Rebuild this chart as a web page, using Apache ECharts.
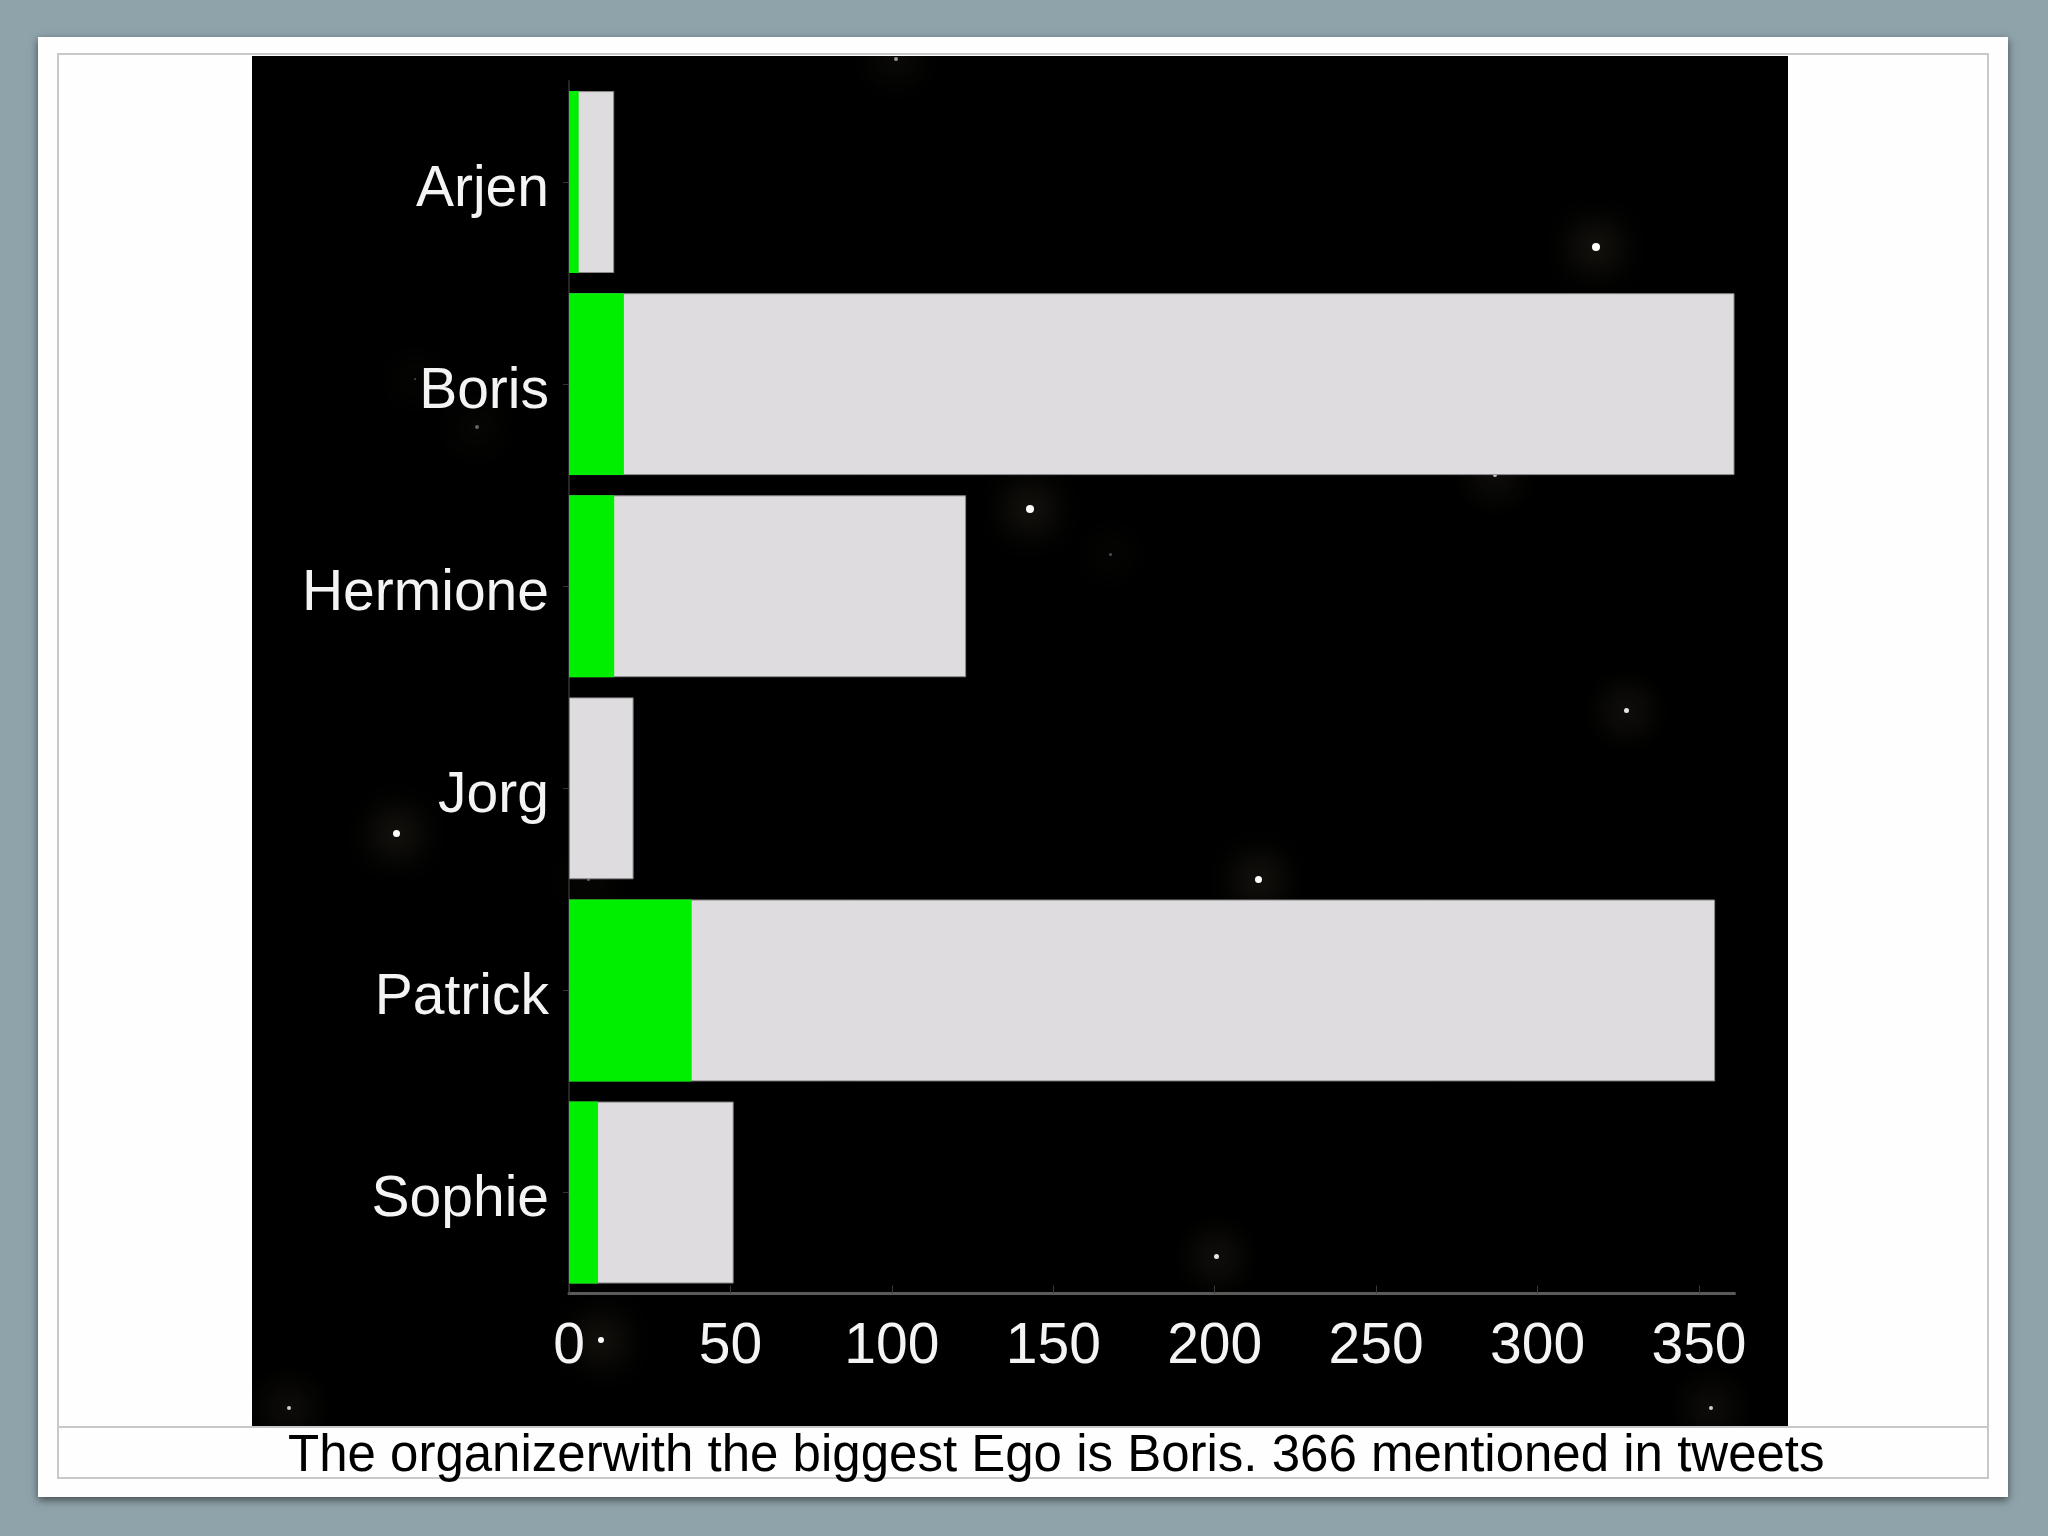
<!DOCTYPE html>
<html>
<head>
<meta charset="utf-8">
<script src="https://cdn.jsdelivr.net/npm/echarts@6/dist/echarts.min.js"></script>
<style>
html, body { margin:0; padding:0; width:2048px; height:1536px; overflow:hidden; background:#8fa3ab; }
#card { position:absolute; left:38px; top:37px; width:1970px; height:1460px; background:#fefefe; box-shadow:0 3px 8px rgba(0,0,0,0.55); }
#frame { position:absolute; left:57px; top:53px; width:1932px; height:1426px; border:2px solid #c8c8c8; box-sizing:border-box; }
#capline { position:absolute; left:57px; top:1426px; width:1932px; height:2px; background:#c8c8c8; }
#black { position:absolute; left:252px; top:56px; width:1536px; height:1370px; background:#000; overflow:hidden; }
.star { position:absolute; border-radius:50%; background:#fff; }
#chart { position:absolute; left:0; top:0; width:2048px; height:1536px; }
</style>
</head>
<body>
<div id="card"></div>
<div id="frame"></div>
<div id="capline"></div>
<div id="black"></div>
<div id="chart"></div>
<script>
// ---- data ----
const categories = ['Arjen', 'Boris', 'Hermione', 'Jorg', 'Patrick', 'Sophie'];
const totalMentions = [14, 361, 123, 20, 355, 51];
const greenMentions = [3, 17, 14, 0, 38, 9];
const xTickStep = 50;
const captionText = 'The organizerwith the biggest Ego is Boris. 366 mentioned in tweets';

// ---- decorative background stars (page coordinates) ----
const stars = [
  [896, 59, 2, 0.6], [1596, 247, 4, 1], [477, 427, 2, 0.4], [1030, 509, 4, 1],
  [1110, 554, 1.5, 0.3], [1495, 475, 2, 0.8], [1626, 710, 2.5, 0.9], [396, 833, 3.5, 1],
  [1258, 879, 3.5, 1], [1216, 1256, 2.5, 0.9], [601, 1340, 3, 1], [289, 1408, 2, 0.8],
  [1711, 1408, 2, 0.8], [588, 879, 1.5, 0.4], [415, 379, 1, 0.3]
];
const black = document.getElementById('black');
stars.forEach(function (s) {
  const d = document.createElement('div');
  d.className = 'star';
  d.style.left = (s[0] - 252 - s[2]) + 'px';
  d.style.top = (s[1] - 56 - s[2]) + 'px';
  d.style.width = (2 * s[2]) + 'px';
  d.style.height = (2 * s[2]) + 'px';
  d.style.opacity = s[3];
  d.style.boxShadow = '0 0 34px 18px rgba(80,76,55,0.32)';
  black.appendChild(d);
});

const FONT = "'Liberation Sans', Arial, Helvetica, sans-serif";
const chart = echarts.init(document.getElementById('chart'), null, { renderer: 'canvas' });
chart.setOption({
  backgroundColor: 'transparent',
  animation: false,
  title: {
    text: captionText,
    left: 283,
    top: 1426,
    textStyle: { fontFamily: FONT, fontSize: 51, fontWeight: 'normal', color: '#000' }
  },
  grid: {
    left: 569,
    top: 81,
    width: 1165.5,
    height: 1212.6,
    outerBoundsMode: 'none'
  },
  xAxis: {
    type: 'value',
    min: 0,
    max: 'dataMax',
    interval: xTickStep,
    splitLine: { show: false },
    axisLine: { show: true, lineStyle: { color: '#5a5a5a', width: 3 } },
    axisTick: { show: true, inside: true, length: 8, lineStyle: { color: '#3a3a3a', width: 1 } },
    axisLabel: {
      color: '#f4f4f4', fontFamily: FONT, fontSize: 57, margin: 25,
      showMaxLabel: false
    }
  },
  yAxis: {
    type: 'category',
    data: categories,
    inverse: true,
    axisLine: { show: true, lineStyle: { color: '#262626', width: 2 } },
    axisTick: { show: true, alignWithLabel: true, length: 6, lineStyle: { color: '#333' } },
    axisLabel: {
      color: '#f4f4f4', fontFamily: FONT, fontSize: 57, margin: 20,
      formatter: function (v) { return '{n|' + v + '}'; },
      rich: {
        n: { color: '#f4f4f4', fontFamily: FONT, fontSize: 57, padding: [16, 0, 0, 0] }
      }
    }
  },
  series: [
    {
      name: 'total',
      type: 'bar',
      data: totalMentions,
      barCategoryGap: '10%',
      barGap: '-100%',
      itemStyle: { color: '#dedcdf', borderColor: '#8a8a8a', borderWidth: 1 },
      silent: true
    },
    {
      name: 'green',
      type: 'bar',
      data: greenMentions,
      barCategoryGap: '10%',
      barGap: '-100%',
      itemStyle: { color: '#00ee00' },
      silent: true
    }
  ]
});
</script>
</body>
</html>
